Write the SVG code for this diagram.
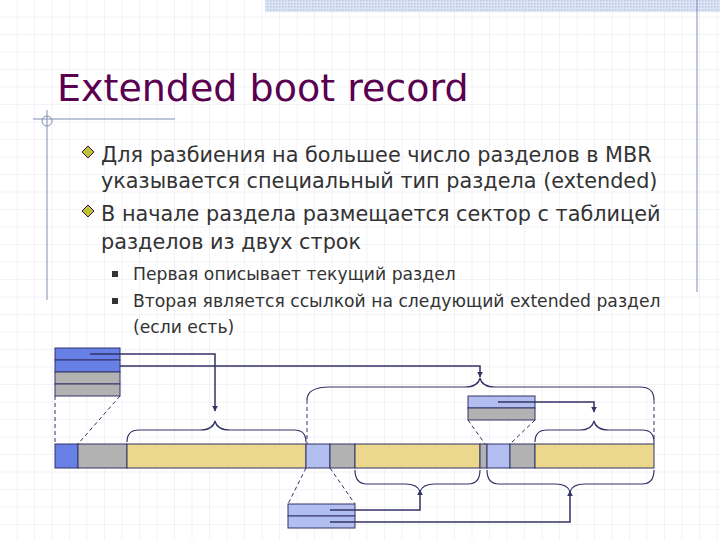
<svg xmlns="http://www.w3.org/2000/svg" width="720" height="540" viewBox="0 0 720 540">
<defs>
<pattern id="grid" width="17.5" height="17.5" patternUnits="userSpaceOnUse"><path d="M17.5 0V17.5H0" fill="none" stroke="#e6e8f2" stroke-width="1"/></pattern>
<pattern id="hatch" width="3" height="3" patternUnits="userSpaceOnUse"><rect width="3" height="3" fill="#dde4f4"/><rect width="1.5" height="1.5" fill="#b8c6e8"/></pattern>
<marker id="ah" viewBox="0 0 10 10" refX="9" refY="5" markerWidth="4" markerHeight="4" orient="auto"><path d="M0 0L10 5L0 10z" fill="#333366"/></marker>
<style>
.t{font-family:"DejaVu Sans",Verdana,sans-serif;fill:#333}
.b{stroke:#333366;stroke-width:1;}
.c{fill:none;stroke:#333366;stroke-width:1.5}
.d{fill:none;stroke:#333366;stroke-width:1;stroke-dasharray:4 3}
.br{fill:none;stroke:#333366;stroke-width:1.2}
</style>
</defs>
<rect width="720" height="540" fill="#fff"/>
<rect width="720" height="540" fill="url(#grid)"/>
<rect x="265" y="0" width="455" height="12" fill="url(#hatch)"/>
<line x1="697" y1="0" x2="697" y2="292" stroke="#7f8fb0"/>
<line x1="33" y1="119" x2="175" y2="119" stroke="#7f8fb0"/>
<line x1="47" y1="110" x2="47" y2="300" stroke="#7f8fb0"/>
<circle cx="47" cy="121" r="5" fill="none" stroke="#7f8fb0"/>
<text x="57" y="101" font-family="DejaVu Sans,Verdana,sans-serif" font-size="38" fill="#5a0050">Extended boot record</text>
<g id="bullets">
<path d="M88 146l6 6-6 6-6-6z" fill="#b5c734" stroke="#5a0050" stroke-width="1"/>
<path d="M88 205l6 6-6 6-6-6z" fill="#b5c734" stroke="#5a0050" stroke-width="1"/>
<rect x="112" y="271" width="6" height="6" fill="#333"/>
<rect x="112" y="298" width="6" height="6" fill="#333"/>
</g>
<g class="t" font-size="20.8">
<text x="101" y="162">Для разбиения на большее число разделов в MBR</text>
<text x="101" y="188">указывается специальный тип раздела (extended)</text>
<text x="101" y="221">В начале раздела размещается сектор с таблицей</text>
<text x="101" y="249">разделов из двух строк</text>
</g>
<g class="t" font-size="17.2">
<text x="133" y="280">Первая описывает текущий раздел</text>
<text x="133" y="307">Вторая является ссылкой на следующий extended раздел</text>
<text x="133" y="333">(если есть)</text>
</g>
<g id="mbr" class="b">
<rect x="55" y="348" width="65" height="12" fill="#6680e6"/>
<rect x="55" y="360" width="65" height="12" fill="#6680e6"/>
<rect x="55" y="372" width="65" height="12" fill="#b2b2b2"/>
<rect x="55" y="384" width="65" height="12" fill="#b2b2b2"/>
</g>
<g id="ebr2" class="b">
<rect x="288" y="504" width="67" height="12" fill="#b3bef0"/>
<rect x="288" y="516" width="67" height="12" fill="#b3bef0"/>
</g>
<g id="ebr3" class="b">
<rect x="468" y="396" width="67" height="12" fill="#b3bef0"/>
<rect x="468" y="408" width="67" height="12" fill="#b2b2b2"/>
</g>
<g id="disk" class="b">
<rect x="55" y="444" width="23" height="24" fill="#6680e6"/>
<rect x="78" y="444" width="49" height="24" fill="#b2b2b2"/>
<rect x="127" y="444" width="179" height="24" fill="#ecd88c"/>
<rect x="306" y="444" width="24" height="24" fill="#b3bef0"/>
<rect x="330" y="444" width="25" height="24" fill="#b2b2b2"/>
<rect x="355" y="444" width="125" height="24" fill="#ecd88c"/>
<rect x="480" y="444" width="7" height="24" fill="#b2b2b2"/>
<rect x="487" y="444" width="23" height="24" fill="#b3bef0"/>
<rect x="510" y="444" width="25" height="24" fill="#b2b2b2"/>
<rect x="535" y="444" width="119" height="24" fill="#ecd88c"/>
</g>
<g id="connectors">
<path class="c" d="M90 354H215V411" marker-end="url(#ah)"/>
<path class="c" d="M120 366H480V377" marker-end="url(#ah)"/>
<path class="c" d="M498 402H594V412" marker-end="url(#ah)"/>
<path class="c" d="M330 510H420V490" marker-end="url(#ah)"/>
<path class="c" d="M330 522H570V491" marker-end="url(#ah)"/>
<path class="br" d="M127 442Q127 430 139 430H200Q213 430 215 421Q217 430 230 430H294Q306 430 306 442"/>
<path class="br" d="M307 400Q307 387 330 387H465Q478 387 480 378Q482 387 495 387H640Q654 387 654 400"/>
<path class="br" d="M535 442Q535 430 547 430H580Q592 430 594 421Q596 430 609 430H642Q654 430 654 442"/>
<path class="br" d="M355 470Q355 484 367 484H405Q418 484 420 492Q422 484 435 484H468Q480 484 480 470"/>
<path class="br" d="M487 470Q487 484 499 484H555Q568 484 570 492Q572 484 585 484H642Q654 484 654 470"/>
<path class="d" d="M55 396V444M120 396L78 444M307 400V444M654 400V444M306 468L288 504M330 468L355 504M468 420L485 444M535 420L510 444"/>
</g>
</svg>
